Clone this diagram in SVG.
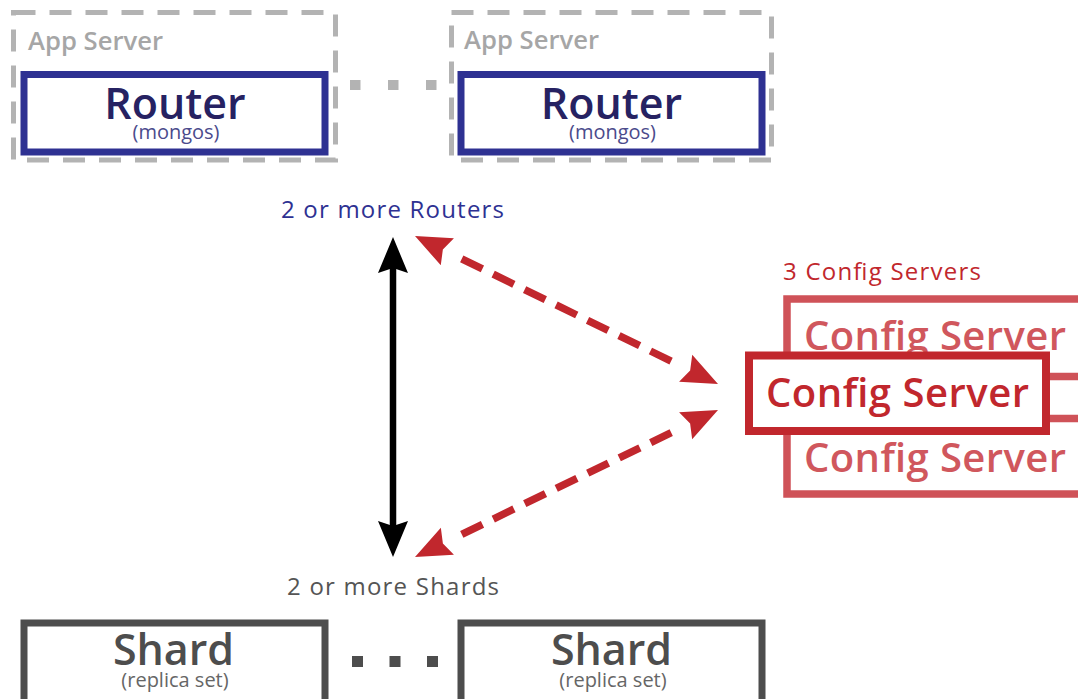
<svg xmlns="http://www.w3.org/2000/svg" width="1078" height="699" viewBox="0 0 1078 699">
  <style>
    text { font-family: "Open Sans", "Liberation Sans", sans-serif; }
    .app { fill: none; stroke: #b3b3b3; stroke-width: 5; stroke-dasharray: 22 14; }
    .app-label { font-size: 25px; font-weight: 600; fill: #a6a6a6; }
    .router { fill: #ffffff; stroke: #2e3192; stroke-width: 7; }
    .router-title { font-size: 43px; font-weight: 600; fill: #262262; text-anchor: middle; }
    .router-sub { font-size: 20px; fill: #4b4b8c; text-anchor: middle; }
    .shard { fill: #ffffff; stroke: #4d4d4d; stroke-width: 7; }
    .shard-title { font-size: 43px; font-weight: 600; fill: #4d4d4d; text-anchor: middle; }
    .shard-sub { font-size: 20px; fill: #666666; text-anchor: middle; }
    .cfg-back { fill: #ffffff; stroke: #cf5258; stroke-width: 7.5; }
    .cfg-back-title { font-size: 40px; font-weight: 600; fill: #d0575d; text-anchor: middle; }
    .cfg-front { fill: #ffffff; stroke: #c1272d; stroke-width: 8; }
    .cfg-front-title { font-size: 40px; font-weight: 600; fill: #c1272d; text-anchor: middle; }
    .caption { font-size: 24px; }
    .link-solid { fill: none; stroke: #000000; stroke-width: 6.5; }
    .link-config { fill: none; stroke: #c1272d; stroke-width: 7.5; stroke-dasharray: 23 12; }
  </style>
  <defs>
    <!-- notched arrowhead; the line ends at the notch -->
    <marker id="head-black" markerUnits="userSpaceOnUse" markerWidth="40" markerHeight="40" refX="0" refY="0" orient="auto-start-reverse" overflow="visible">
      <path d="M31,0 L-5,-15 L0,0 L-5,15 Z" fill="#000000"/>
    </marker>
    <!-- same head, set off past the end of the dash run -->
    <marker id="head-red" markerUnits="userSpaceOnUse" markerWidth="60" markerHeight="40" refX="0" refY="0" orient="auto-start-reverse" overflow="visible">
      <path d="M52,0 L16,-15 L21,0 L16,15 Z" fill="#c1272d"/>
    </marker>
  </defs>

  <!-- application servers hosting the routers -->
  <g id="app-server-1">
    <rect class="app" x="13.5" y="12.5" width="322" height="147.5"/>
    <text class="app-label" x="28" y="50" textLength="135" lengthAdjust="spacingAndGlyphs">App Server</text>
  </g>
  <g id="router-1">
    <rect class="router" x="24" y="74.5" width="301" height="77.5"/>
    <text class="router-title" x="175" y="118.5">Router</text>
    <text class="router-sub" x="176" y="139">(mongos)</text>
  </g>

  <g id="app-server-2">
    <rect class="app" x="451.5" y="12.5" width="320" height="147.5"/>
    <text class="app-label" x="464" y="48.5" textLength="135" lengthAdjust="spacingAndGlyphs">App Server</text>
  </g>
  <g id="router-2">
    <rect class="router" x="461" y="74.5" width="301" height="77.5"/>
    <text class="router-title" x="611.5" y="118.5">Router</text>
    <text class="router-sub" x="612.5" y="139">(mongos)</text>
  </g>

  <g id="routers-label">
    <text class="caption" x="281" y="217.5" fill="#2e3192" textLength="223" lengthAdjust="spacing">2 or more Routers</text>
  </g>

  <!-- config server replica group: two behind, one in front -->
  <g id="config-servers">
    <text class="caption" x="783" y="280" fill="#c1272d" textLength="198" lengthAdjust="spacing">3 Config Servers</text>
    <g id="config-server-back-top">
      <rect class="cfg-back" x="787" y="299" width="320" height="77.5"/>
      <text class="cfg-back-title" x="935" y="350" textLength="262" lengthAdjust="spacing">Config Server</text>
    </g>
    <g id="config-server-back-bottom">
      <rect class="cfg-back" x="787" y="418.5" width="320" height="75.5"/>
      <text class="cfg-back-title" x="935" y="471.5" textLength="262" lengthAdjust="spacing">Config Server</text>
    </g>
    <g id="config-server-front">
      <rect class="cfg-front" x="749" y="355.5" width="297" height="75.5"/>
      <text class="cfg-front-title" x="897.5" y="406.5" textLength="263" lengthAdjust="spacing">Config Server</text>
    </g>
  </g>

  <g id="shards-label">
    <text class="caption" x="287" y="595" fill="#555555" textLength="212" lengthAdjust="spacing">2 or more Shards</text>
  </g>

  <g id="shard-1">
    <rect class="shard" x="24" y="623" width="301" height="100"/>
    <text class="shard-title" x="173.5" y="665">Shard</text>
    <text class="shard-sub" x="175" y="686.5">(replica set)</text>
  </g>
  <g id="shard-2">
    <rect class="shard" x="461" y="623" width="301" height="100"/>
    <text class="shard-title" x="611.5" y="665">Shard</text>
    <text class="shard-sub" x="613" y="686.5">(replica set)</text>
  </g>

  <g id="connectors">
    <!-- ellipsis between routers -->
    <line x1="350" y1="85" x2="437" y2="85" stroke="#b3b3b3" stroke-width="10" stroke-dasharray="10.5 27.5"/>
    <!-- ellipsis between shards -->
    <g fill="#4d4d4d">
      <rect x="352" y="656" width="11" height="11"/>
      <rect x="389.5" y="656" width="11" height="11"/>
      <rect x="427" y="656" width="11" height="11"/>
    </g>
    <!-- routers to shards -->
    <path class="link-solid" d="M393,268 L393,526" marker-start="url(#head-black)" marker-end="url(#head-black)"/>
    <!-- routers to config servers -->
    <path class="link-config" d="M461.73,258.82 L671.27,361.18" marker-start="url(#head-red)" marker-end="url(#head-red)"/>
    <!-- shards to config servers -->
    <path class="link-config" d="M461.78,534.30 L671.22,432.70" marker-start="url(#head-red)" marker-end="url(#head-red)"/>
  </g>
</svg>
